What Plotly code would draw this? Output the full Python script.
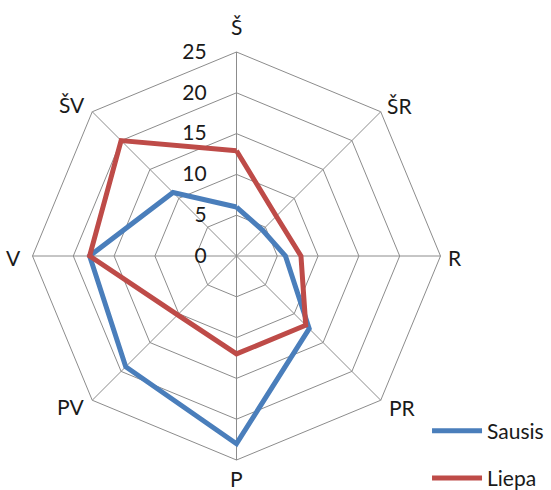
import plotly.graph_objects as go

directions = ["Š", "ŠR", "R", "PR", "P", "PV", "V", "ŠV"]
sausis = [6.0, 4.5, 6.0, 12.6, 23.0, 19.2, 18.0, 11.0]
liepa = [12.9, 6.9, 7.9, 12.0, 12.0, 10.2, 18.0, 20.0]
radial_ticks = [0, 5, 10, 15, 20, 25]

FONT = "Lato"
FS = 21
GRID = "#8c8c8c"
TXT = "#1a1a1a"
W, H = 551, 490
CX, CY, R = 236.5, 256, 204   # chart centre / radius, px from top-left

# angular label placement (px from top-left) and anchors
label_pos = {
    "Š": (236, 27, "center", "middle"),
    "ŠR": (385, 105, "left", "middle"),
    "R": (446, 257, "left", "middle"),
    "PR": (387, 407, "left", "middle"),
    "P": (236, 478, "center", "middle"),
    "PV": (86, 406, "right", "middle"),
    "V": (23, 257, "right", "middle"),
    "ŠV": (87, 104, "right", "middle"),
}

fig = go.Figure()
fig.add_trace(go.Scatterpolar(
    r=sausis + sausis[:1], theta=directions + directions[:1],
    mode="lines", name="Sausis", legendgroup="a",
    line=dict(color="#4A7EBB", width=5),
))
fig.add_trace(go.Scatterpolar(
    r=liepa + liepa[:1], theta=directions + directions[:1],
    mode="lines", name="Liepa", legendgroup="b",
    line=dict(color="#BE4B48", width=5),
))

for d in directions:
    x, y, xa, ya = label_pos[d]
    fig.add_annotation(
        text=d, x=x / W, y=1 - y / H, xref="paper", yref="paper",
        xanchor=xa, yanchor=ya, showarrow=False,
        font=dict(family=FONT, size=FS, color=TXT),
    )

fig.update_layout(
    width=W, height=H,
    margin=dict(l=0, r=0, t=0, b=0, autoexpand=False),
    paper_bgcolor="white",
    font=dict(family=FONT, size=FS, color=TXT),
    polar=dict(
        domain=dict(x=[(CX - R) / W, (CX + R) / W],
                    y=[1 - (CY + R) / H, 1 - (CY - R) / H]),
        bgcolor="white",
        gridshape="linear",
        radialaxis=dict(
            range=[0, 25], tickvals=radial_ticks, angle=90,
            side="counterclockwise", tickangle=90,
            showline=False, gridcolor=GRID, gridwidth=1,
            ticks="outside", ticklen=22, tickcolor="rgba(0,0,0,0)",
            tickfont=dict(family=FONT, size=FS, color=TXT),
        ),
        angularaxis=dict(
            direction="clockwise", rotation=90,
            categoryorder="array", categoryarray=directions,
            showline=True, linecolor=GRID, linewidth=1,
            gridcolor=GRID, gridwidth=1, ticks="",
            showticklabels=False,
        ),
    ),
    showlegend=True,
    legend=dict(
        x=0.775, y=0.162, xanchor="left", yanchor="top",
        itemwidth=50,
        tracegroupgap=17, font=dict(family=FONT, size=FS, color=TXT),
        bgcolor="rgba(0,0,0,0)",
    ),
)

fig.write_html(
    "out.html",
    config={"displayModeBar": False},
    post_script="document.body.style.margin='0';document.body.style.overflow='hidden';",
)
